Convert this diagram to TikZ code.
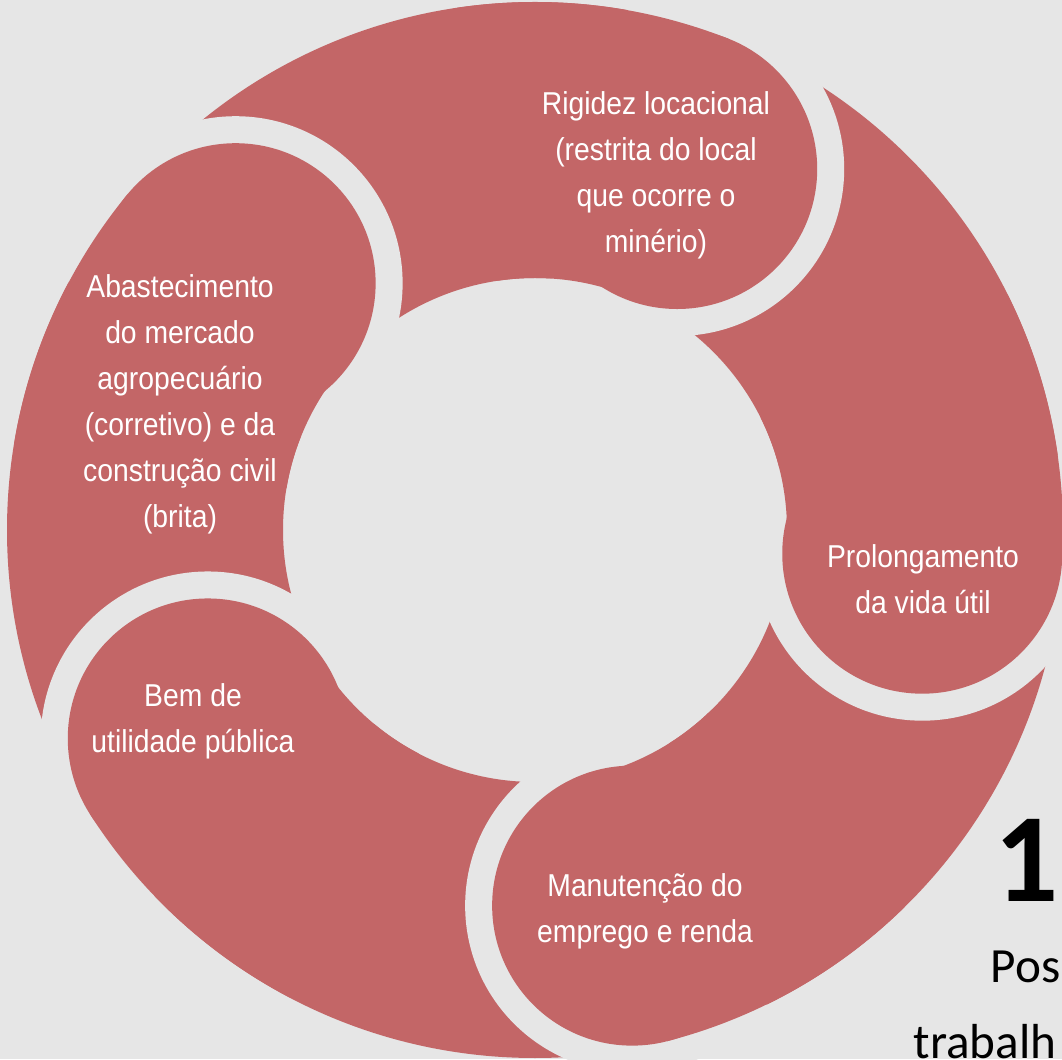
\documentclass[tikz,border=0pt]{standalone}
\usepackage{fontspec}
\setmainfont{Liberation Sans}[FakeStretch=0.895]
\newfontfamily\calibri{Carlito}
\usepackage{xcolor}
\usetikzlibrary{calc}

\definecolor{ringred}{RGB}{195,102,103}
\definecolor{bggray}{RGB}{230,230,230}

\begin{document}
\begin{tikzpicture}[
    segfill/.style={fill=ringred, draw=none},
    gapfill/.style={fill=bggray, draw=none},
    seglabel/.style={text=white, align=center, inner sep=0pt, font=\fontsize{9}{13.1}\selectfont},
    numtext/.style={inner sep=0pt, font=\calibri\bfseries\fontsize{36}{40}\selectfont},
    captext/.style={inner sep=0pt, font=\calibri\fontsize{14}{17}\selectfont},
]

% Background
\fill[bggray] (0,0) rectangle (10.62,10.59);
\useasboundingbox (0,0) rectangle (10.62,10.59);

% Ring geometry
\def\Ro{5.28}   % outer radius
\def\Ri{2.52}   % inner radius
\def\dh{3.88}   % head centre distance
\def\rh{1.40}   % head radius
\def\rg{1.67}   % notch radius (head + gap)
\coordinate (c) at (5.35,5.29);

% Full ring
\fill[segfill, even odd rule] (c) circle (\Ro) (c) circle (\Ri);

% Notches round every head
\foreach \a in {140.5,68.5,-3.5,-75.5,-147.5} {
    \fill[gapfill] ($(c)+(\a:\dh)$) circle (\rg);
}

% Heads and start of each body
\foreach \a in {140.5,68.5,-3.5,-75.5,-147.5} {
    \fill[segfill] ($(c)+(\a:\dh)$) circle (\rh);
    \fill[segfill] ($(c)+(\a:\Ro)$) arc[start angle=\a, end angle=\a+30, radius=\Ro]
        -- ($(c)+(\a+30:\Ri)$) arc[start angle=\a+30, end angle=\a, radius=\Ri] -- cycle;
}

% Labels
\node[seglabel] (rigidez) at (6.56,8.84) {Rigidez locacional\\(restrita do local\\que ocorre o\\minério)};
\node[seglabel] (abast) at (1.80,6.55) {Abastecimento\\do mercado\\agropecuário\\(corretivo) e da\\construção civil\\(brita)};
\node[seglabel] (prolong) at (9.23,4.80) {Prolongamento\\da vida útil};
\node[seglabel] (bem) at (1.93,3.38) {Bem de\\utilidade pública};
\node[seglabel] (manut) at (6.45,1.48) {Manutenção do\\emprego e renda};

% Side text
\node[numtext, anchor=base] (num) at (10.27,1.57) {1};
\node[captext, anchor=base west] (pos) at (9.90,0.77) {Pos};
\node[captext, anchor=base west] (trab) at (9.13,0.01) {trabalh};

\end{tikzpicture}
\end{document}
